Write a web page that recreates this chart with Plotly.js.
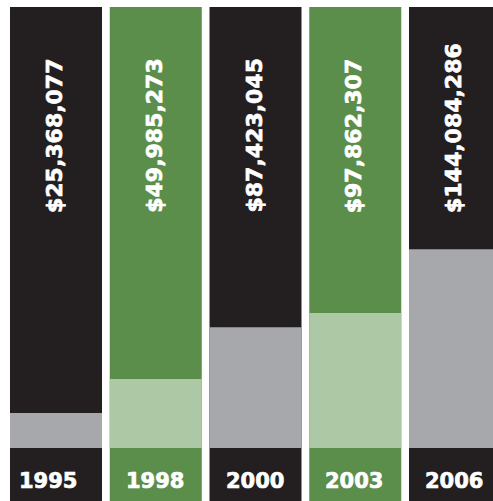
<!DOCTYPE html>
<html>
<head>
<meta charset="utf-8">
<script src="https://cdn.plot.ly/plotly-3.0.1.min.js"></script>
<style>
html,body{margin:0;padding:0;background:#fff;}
#chart{width:493px;height:501px;}
#chart .annotation-text{stroke:#ffffff;stroke-width:0.7px;paint-order:stroke;}
</style>
</head>
<body>
<div id="chart"></div>
<script>
// Data
const years = ["1995", "1998", "2000", "2003", "2006"];
const values = [25368077, 49985273, 87423045, 97862307, 144084286];
const valueLabels = ["$25,368,077", "$49,985,273", "$87,423,045", "$97,862,307", "$144,084,286"];

// Styling
const darkCol = "#231f20", greenCol = "#5b8e4b";
const grayCol = "#a7a8ab", lightGreenCol = "#adc8a4";
const W = 493, H = 501, mT = 7, mL = 10;
const baselinePx = 448;           // pixel row of bar baseline
const pxPerM = 1.38;               // pixels per million
const pitchPx = 99.75, barPx = 92, firstCenterPx = 56;
const yearShiftPx = [-7, 0, 0, 0, 0];

const valsM = values.map(v => v / 1e6);
const yMin = -(H - baselinePx) / pxPerM;
const yMax = (baselinePx - mT) / pxPerM;
const xs = years.map((_, i) => i);
const xMin = -(firstCenterPx - mL) / pitchPx;
const xMax = (W - firstCenterPx) / pitchPx;
const bw = barPx / pitchPx;

const bgColors = xs.map(i => i % 2 === 0 ? darkCol : greenCol);
const fgColors = xs.map(i => i % 2 === 0 ? grayCol : lightGreenCol);

const traces = [
  {type: "bar", x: xs, y: xs.map(() => yMax - yMin + 50), base: yMin - 10, width: bw,
   marker: {color: bgColors, line: {width: 0}}, hoverinfo: "skip"},
  {type: "bar", x: xs, y: valsM, base: 0, width: bw,
   marker: {color: fgColors, line: {width: 0}}, hoverinfo: "skip"}
];

const labelY = (baselinePx - 215) / pxPerM;
const yearY = (baselinePx - 481) / pxPerM;
const annotations = [];
xs.forEach(i => {
  annotations.push({x: i, y: labelY, xref: "x", yref: "y", text: "<b>" + valueLabels[i] + "</b>", textangle: -90,
    showarrow: false, xanchor: "center", yanchor: "bottom", xshift: -2,
    font: {family: "DejaVu Sans", size: 22, color: "#ffffff"}});
  annotations.push({x: i, y: yearY, xref: "x", yref: "y", text: "<b>" + years[i] + "</b>",
    showarrow: false, xanchor: "center", yanchor: "middle", xshift: -1 + yearShiftPx[i],
    font: {family: "DejaVu Sans", size: 21, color: "#ffffff"}});
});

const layout = {
  width: W, height: H,
  margin: {l: mL, r: 0, t: mT, b: 0, pad: 0},
  paper_bgcolor: "#ffffff", plot_bgcolor: "#ffffff",
  barmode: "overlay", showlegend: false,
  xaxis: {range: [xMin, xMax], showgrid: false, zeroline: false, showticklabels: false, showline: false, ticks: "", fixedrange: true},
  yaxis: {range: [yMin, yMax], showgrid: false, zeroline: false, showticklabels: false, showline: false, ticks: "", fixedrange: true},
  annotations: annotations
};

Plotly.newPlot("chart", traces, layout, {displayModeBar: false, staticPlot: true});
</script>
</body>
</html>
